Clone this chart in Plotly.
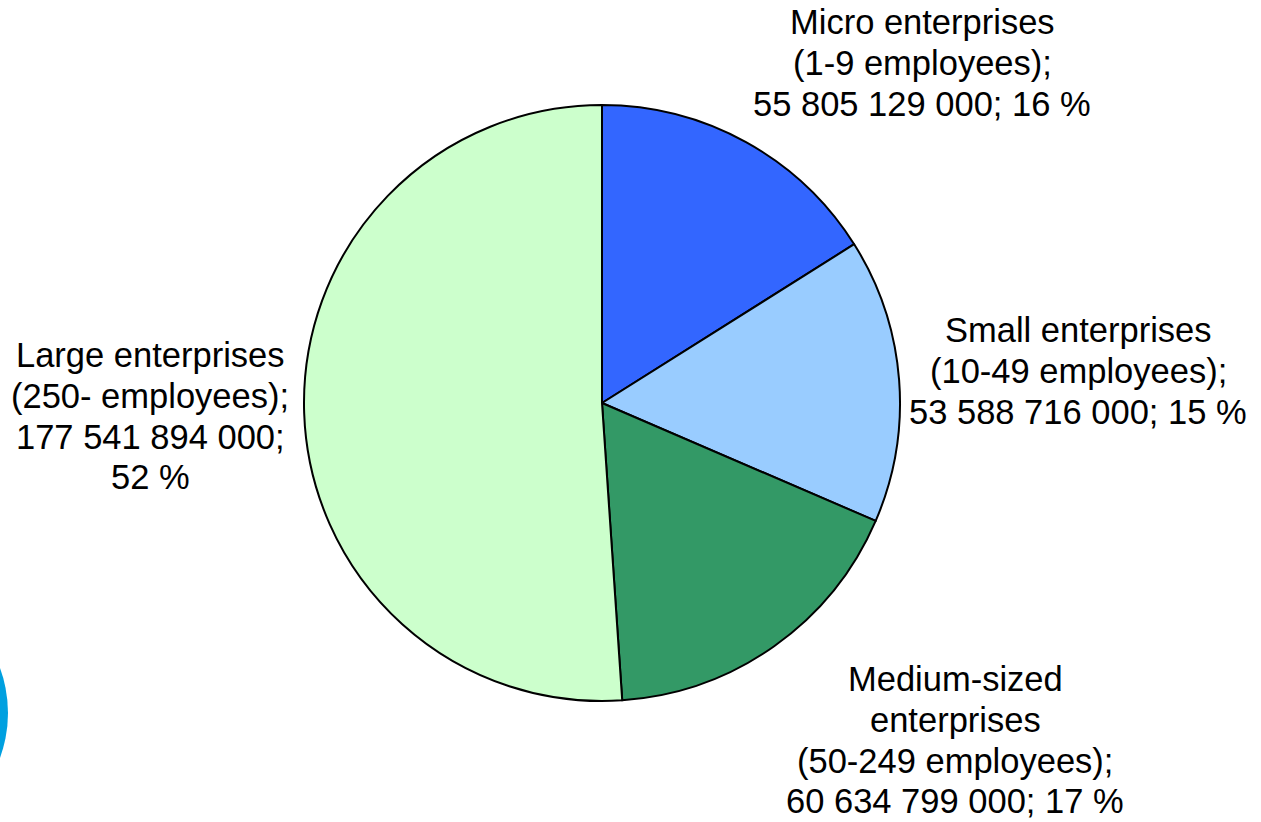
import plotly.graph_objects as go

W, H = 1261, 822
OFF = 0  # page body margin removed via post_script

categories = ["Micro enterprises", "Small enterprises", "Medium-sized enterprises", "Large enterprises"]
values = [55805129000, 53588716000, 60634799000, 177541894000]
value_labels = ["55 805 129 000", "53 588 716 000", "60 634 799 000", "177 541 894 000"]
percent_labels = ["16 %", "15 %", "17 %", "52 %"]
label_lines = [
    ["Micro enterprises", "(1-9 employees);", "{v}; {p}"],
    ["Small enterprises", "(10-49 employees);", "{v}; {p}"],
    ["Medium-sized", "enterprises", "(50-249 employees);", "{v}; {p}"],
    ["Large enterprises", "(250- employees);", "{v};", "{p}"],
]
colors = ["#3366FF", "#99CCFF", "#339966", "#CCFFCC"]

# label anchor positions in screen pixels (centre x, first-line centre y)
label_pos = [(922, 22), (1078, 330), (955, 679), (150, 355)]
line_gap = 40.8

# pie geometry (screen pixels)
cx, cy, r = 602, 403, 298


def px(x):
    return (x - OFF) / W


def py(y):
    return 1 - (y - OFF) / H


fig = go.Figure(go.Pie(
    labels=categories,
    values=values,
    sort=False,
    direction="clockwise",
    rotation=0,
    marker=dict(colors=colors, line=dict(color="black", width=2)),
    textinfo="none",
    hoverinfo="label+value+percent",
    showlegend=False,
    domain=dict(x=[px(cx - r), px(cx + r)], y=[py(cy + r), py(cy - r)]),
))

annotations = []
for lines, (lx, ly), v, p in zip(label_lines, label_pos, value_labels, percent_labels):
    for i, line in enumerate(lines):
        annotations.append(dict(
            text=line.format(v=v, p=p),
            x=px(lx), y=py(ly + i * line_gap),
            xref="paper", yref="paper",
            xanchor="center", yanchor="middle",
            showarrow=False,
            font=dict(family="Liberation Sans, Arial, sans-serif", size=34.5, color="black"),
        ))

# decorative logo fragment at lower-left edge
ecx, ecy, er = -122, 713, 130
shapes = [dict(
    type="circle", xref="paper", yref="paper",
    x0=px(ecx - er), x1=px(ecx + er),
    y0=py(ecy + er), y1=py(ecy - er),
    fillcolor="#00A0E0", line=dict(width=0), layer="below",
)]

fig.update_layout(
    width=W, height=H,
    margin=dict(l=0, r=0, t=0, b=0),
    paper_bgcolor="white", plot_bgcolor="white",
    annotations=annotations,
    shapes=shapes,
)

fig.write_html(
    "out.html",
    config={"displayModeBar": False},
    post_script="document.body.style.margin='0';",
)
